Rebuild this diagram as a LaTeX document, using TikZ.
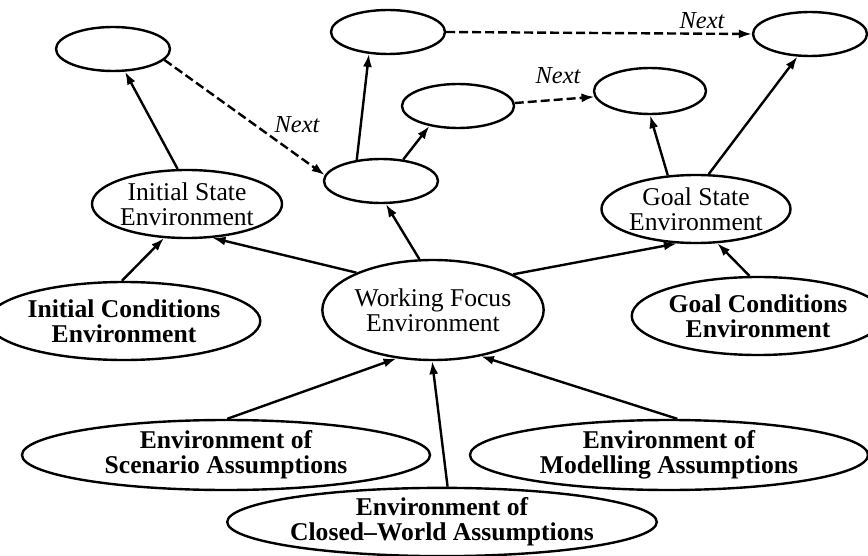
\documentclass[tikz,border=0pt]{standalone}
\usepackage{fontspec}
\setmainfont{Liberation Serif}
\usetikzlibrary{shapes.geometric,arrows.meta}
\begin{document}
\begin{tikzpicture}[x=0.5pt,y=-0.5pt,
  env/.style={ellipse,draw,line width=1.2pt,inner sep=0pt,align=center,
    font=\fontsize{12.8}{12.4}\selectfont},
  benv/.style={env,font=\fontsize{12.8}{12.4}\selectfont\bfseries},
  sz/.style 2 args={minimum width=#1pt,minimum height=#2pt},
  arr/.style={line width=1.2pt,-{Latex[length=6.5pt,width=4.5pt]}},
  nextarr/.style={arr,dash pattern=on 4.5pt off 2pt},
  lbl/.style={font=\fontsize{12.2}{12}\selectfont\itshape,inner sep=0pt}]
\useasboundingbox (0,0) rectangle (868,556);
% empty state ellipses
\node[env,sz={57}{22}] (e1) at (113,49) {};
\node[env,sz={57}{22}] (e2) at (388,32) {};
\node[env,sz={57}{22}] (e3) at (810,34) {};
\node[env,sz={56}{22}] (e4) at (458,106) {};
\node[env,sz={56}{23}] (e5) at (650,91) {};
\node[env,sz={57}{22}] (e6) at (381,181) {};
% named environments
\node[env,sz={95}{34}] (is) at (187,204) {Initial State\\Environment};
\node[env,sz={94}{34}] (gs) at (696,209) {Goal State\\Environment};
\node[env,sz={101}{50}] (wf) at (433,310) {Working Focus\\Environment};
\node[benv,sz={116}{39}] (ice) at (124,321) {Initial Conditions\\Environment};
\node[benv,sz={110}{39}] (gce) at (758,316) {Goal Conditions\\Environment};
\node[benv,sz={204}{35}] (sa) at (226,455) {Environment of\\Scenario Assumptions};
\node[benv,sz={199}{35}] (ma) at (669,455) {Environment of\\Modelling Assumptions};
\node[benv,sz={204}{33}] (cw) at (442,522) {Environment of\\Closed--World Assumptions};
% Next labels
\node[lbl] (n1) at (297,125) {Next};
\node[lbl] (n2) at (702,21) {Next};
\node[lbl] (n3) at (558,76) {Next};
% connectors
\draw[arr] (is.105) -- (e1.-62);
\draw[nextarr] (e1.-12) -- (e6.174);
\draw[arr] (e6.139) -- (e2.-131);
\draw[arr] (e6.44) -- (e4.-145);
\draw[nextarr] (e2.0) -- (e3.180);
\draw[nextarr] (e4.3) -- (e5.-174);
\draw[arr] (gs.130) -- (e5.-90);
\draw[arr] (gs.70) -- (e3.-119);
\draw[arr] (wf.154) -- (is.-53);
\draw[arr] (ice.93) -- (is.-124);
\draw[arr] (wf.105) -- (e6.-78);
\draw[arr] (wf.24) -- (gs.-119);
\draw[arr] (gce.102) -- (gs.-58);
\draw[arr] (sa.88) -- (wf.-127);
\draw[arr] (cw.81) -- (wf.-91);
\draw[arr] (ma.77) -- (wf.-44);
\end{tikzpicture}
\end{document}
